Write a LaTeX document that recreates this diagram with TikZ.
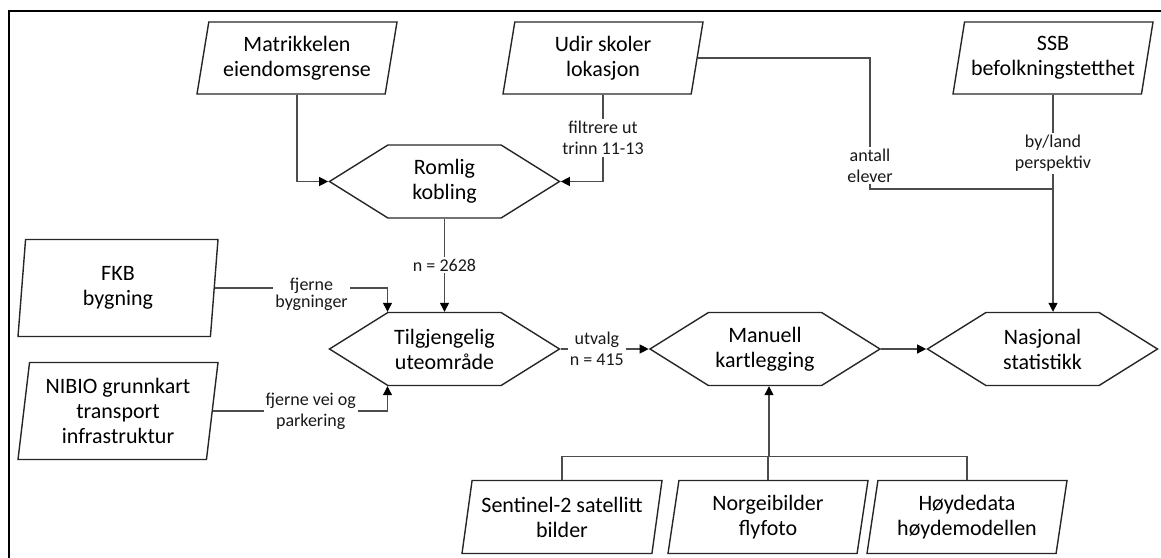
\documentclass[tikz,border=0pt]{standalone}
\usepackage{fontspec}
\setmainfont{Carlito}
\definecolor{darkgrey}{rgb}{0.3,0.3,0.3}
\usetikzlibrary{shapes.geometric,shapes.symbols,arrows.meta,calc}

\begin{document}
\begin{tikzpicture}[x=0.5pt,y=-0.5pt]
\tikzstyle{data}=[trapezium, trapezium left angle=75, trapezium right angle=105, trapezium stretches body, minimum width=100pt, minimum height=36pt, inner sep=0pt, draw=black!85, line width=0.7pt, align=center, font=\fontsize{11}{12.5}\selectfont]
\tikzstyle{data2}=[data, trapezium left angle=80, trapezium right angle=100, minimum height=48.5pt]
\tikzstyle{data3}=[data, trapezium left angle=76, trapezium right angle=104, minimum height=36.5pt]
\tikzstyle{process}=[signal, signal to=west and east, signal pointer angle=64, minimum width=115pt, minimum height=36.5pt, inner sep=0pt, draw=black!85, line width=0.7pt, align=center, font=\fontsize{11}{12.5}\selectfont]
\tikzstyle{connect}=[darkgrey, line width=0.6pt]
\tikzstyle{arrow}=[connect, -{Triangle[length=4.5pt,width=4.5pt,color=black]}]
\tikzstyle{lbl}=[fill=white, text=black!90, inner sep=1pt, align=center, font=\fontsize{9}{10.5}\selectfont]

\useasboundingbox (0,0) rectangle (1161,557);
\draw[line width=1.2pt] (9,11) rectangle (1180,580);

	\node[data] (matr) at (297,58) {Matrikkelen\\eiendomsgrense};
	\node[data] (udir) at (603,58) {Udir skoler\\lokasjon};
	\node[data] (ssb) at (1053,58) {SSB\\befolkningstetthet};
	\node[data2] (fkb) at (118,288) {FKB\\bygning};
	\node[data2] (nibio) at (118,411) {NIBIO grunnkart\\transport\\infrastruktur};
	\node[process] (romlig) at (444.5,181.5) {Romlig\\kobling};
	\node[process] (tilg) at (444.5,349) {Tilgjengelig\\uteområde};
	\node[process] (manuell) at (765,349) {Manuell\\kartlegging};
	\node[process] (nasjonal) at (1042.5,349) {Nasjonal\\statistikk};
	\node[data3] (sentinel) at (562,517) {Sentinel-2 satellitt\\bilder};
	\node[data3] (norge) at (768,517) {Norgeibilder\\flyfoto};
	\node[data3] (hoyde) at (967,517) {Høydedata\\høydemodellen};

	\coordinate (knekk) at (870,189);
	\coordinate (samle) at ($(manuell.south)+(4,70)$);

	\draw[arrow] (matr.south) |- (romlig.west);
	\draw[arrow] (udir.south) |- node[lbl,pos=0.25]{filtrere ut\\trinn 11-13} (romlig.east);
	\draw[arrow] (romlig.south) -- node[lbl]{n = 2628} (tilg.north);
	\draw[arrow] (fkb.east) -| node[lbl,pos=0.28,yshift=-3pt]{fjerne\\[-2pt]bygninger} ($(tilg.north)+(-57,0)$);
	\draw[arrow] (nibio.east) -| node[lbl,pos=0.28]{fjerne vei og\\parkering} ($(tilg.south)+(-57,0)$);
	\draw[arrow] (tilg.east) -- node[lbl,pos=0.41]{utvalg\\n = 415} (manuell.west);
	\draw[arrow] (manuell.east) -- (nasjonal.west);

	\draw[connect] (udir.east) -| node[lbl,pos=0.91]{antall\\elever} (knekk) -- (knekk -| ssb.south);
	\draw[arrow] (ssb.south) -- node[lbl,pos=0.27]{by/land\\perspektiv} (ssb.south |- nasjonal.north);

	\draw[connect] (sentinel.north) |- (samle);
	\draw[connect] (norge.north) |- (samle);
	\draw[connect] (hoyde.north) |- (samle);
	\draw[arrow] (samle) -- (samle |- manuell.south);
\end{tikzpicture}
\end{document}
